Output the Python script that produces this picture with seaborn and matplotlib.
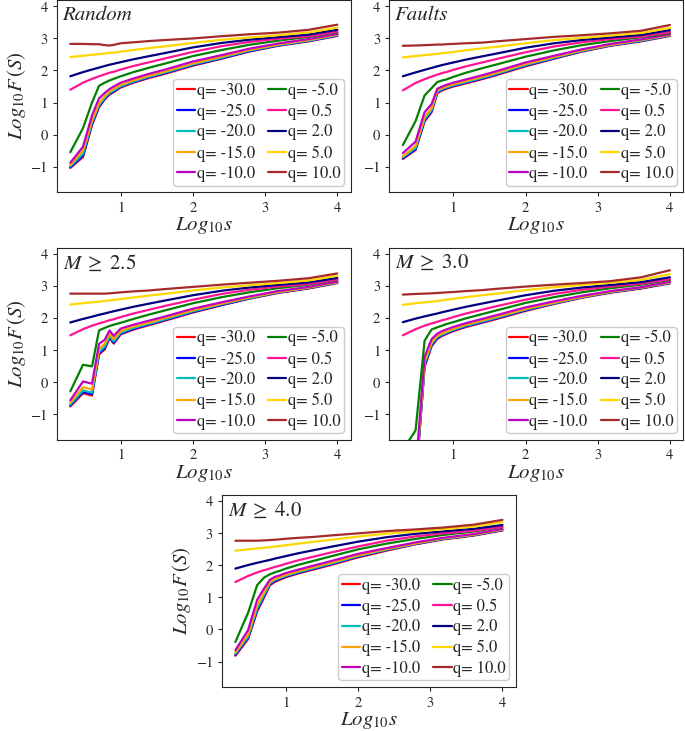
import numpy as np
import pandas as pd
import matplotlib
matplotlib.use('Agg')
import matplotlib.pyplot as plt
import seaborn as sns

# scales s (x axis is log10 s)
scales = [2, 3, 4, 5, 6, 7, 8, 10, 15, 25, 40, 100, 250, 600, 1500, 4000, 10000]

q_values = [-30.0, -25.0, -20.0, -15.0, -10.0, -5.0, 0.5, 2.0, 5.0, 10.0]
q_colors = ['red', 'blue', 'c', 'orange', 'm', 'green', 'deeppink', 'navy', 'gold', 'brown']

panel_titles = ['Random', 'Faults', r'$M\;\geq\;2.5$', r'$M\;\geq\;3.0$', r'$M\;\geq\;4.0$']

# log10 F(s), one row per q (same order as q_values)
random_curves = [
    [-1.04, -0.70, 0.30, 0.85, 1.10, 1.25, 1.33, 1.47, 1.62, 1.77, 1.89, 2.15, 2.37, 2.59, 2.77, 2.91, 3.08],
    [-1.02, -0.66, 0.33, 0.88, 1.12, 1.27, 1.35, 1.49, 1.64, 1.79, 1.91, 2.17, 2.38, 2.60, 2.78, 2.92, 3.09],
    [-0.99, -0.60, 0.38, 0.92, 1.15, 1.30, 1.38, 1.51, 1.66, 1.81, 1.93, 2.19, 2.40, 2.62, 2.79, 2.93, 3.10],
    [-0.95, -0.50, 0.45, 0.98, 1.20, 1.34, 1.42, 1.55, 1.69, 1.84, 1.96, 2.22, 2.43, 2.64, 2.81, 2.95, 3.12],
    [-0.88, -0.38, 0.60, 1.13, 1.30, 1.42, 1.50, 1.62, 1.75, 1.90, 2.02, 2.28, 2.48, 2.68, 2.84, 2.98, 3.14],
    [-0.55, 0.20, 1.00, 1.52, 1.62, 1.69, 1.74, 1.82, 1.95, 2.09, 2.21, 2.45, 2.64, 2.80, 2.93, 3.05, 3.19],
    [1.40, 1.62, 1.74, 1.82, 1.88, 1.93, 1.96, 2.03, 2.14, 2.26, 2.37, 2.58, 2.76, 2.89, 2.99, 3.07, 3.21],
    [1.82, 1.95, 2.03, 2.09, 2.14, 2.18, 2.21, 2.26, 2.35, 2.45, 2.54, 2.72, 2.86, 2.96, 3.04, 3.12, 3.27],
    [2.42, 2.46, 2.49, 2.51, 2.53, 2.55, 2.56, 2.59, 2.64, 2.70, 2.75, 2.86, 2.96, 3.03, 3.10, 3.19, 3.34],
    [2.83, 2.83, 2.82, 2.82, 2.79, 2.78, 2.80, 2.85, 2.88, 2.92, 2.95, 3.00, 3.07, 3.13, 3.18, 3.27, 3.43],
]

faults_curves = [
    [-0.76, -0.48, 0.41, 0.70, 1.29, 1.38, 1.43, 1.50, 1.60, 1.73, 1.86, 2.13, 2.37, 2.59, 2.77, 2.91, 3.08],
    [-0.74, -0.46, 0.44, 0.73, 1.31, 1.40, 1.45, 1.52, 1.62, 1.75, 1.88, 2.15, 2.38, 2.60, 2.78, 2.92, 3.09],
    [-0.71, -0.42, 0.48, 0.77, 1.34, 1.42, 1.47, 1.54, 1.64, 1.77, 1.90, 2.17, 2.40, 2.61, 2.79, 2.93, 3.10],
    [-0.68, -0.35, 0.55, 0.82, 1.38, 1.45, 1.50, 1.57, 1.67, 1.80, 1.93, 2.20, 2.42, 2.63, 2.80, 2.95, 3.11],
    [-0.58, -0.22, 0.70, 0.95, 1.43, 1.50, 1.55, 1.62, 1.72, 1.85, 1.98, 2.25, 2.46, 2.66, 2.83, 2.97, 3.13],
    [-0.33, 0.42, 1.22, 1.45, 1.64, 1.69, 1.72, 1.80, 1.93, 2.07, 2.19, 2.43, 2.63, 2.79, 2.92, 3.04, 3.17],
    [1.38, 1.61, 1.73, 1.81, 1.87, 1.92, 1.95, 2.02, 2.13, 2.25, 2.36, 2.57, 2.75, 2.88, 2.98, 3.06, 3.20],
    [1.82, 1.94, 2.02, 2.08, 2.13, 2.17, 2.20, 2.25, 2.34, 2.44, 2.53, 2.71, 2.85, 2.95, 3.03, 3.11, 3.26],
    [2.41, 2.45, 2.48, 2.50, 2.52, 2.54, 2.55, 2.58, 2.63, 2.69, 2.74, 2.85, 2.95, 3.02, 3.09, 3.17, 3.33],
    [2.77, 2.78, 2.79, 2.80, 2.81, 2.81, 2.82, 2.83, 2.85, 2.87, 2.91, 2.98, 3.05, 3.10, 3.16, 3.24, 3.42],
]

m25_curves = [
    [-0.75, -0.34, -0.41, 0.87, 1.03, 1.39, 1.21, 1.50, 1.65, 1.79, 1.92, 2.18, 2.41, 2.61, 2.79, 2.93, 3.10],
    [-0.72, -0.30, -0.37, 0.90, 1.07, 1.42, 1.24, 1.52, 1.67, 1.81, 1.94, 2.20, 2.42, 2.62, 2.80, 2.94, 3.11],
    [-0.69, -0.25, -0.32, 0.95, 1.12, 1.45, 1.28, 1.55, 1.70, 1.83, 1.96, 2.22, 2.44, 2.63, 2.81, 2.95, 3.12],
    [-0.64, -0.15, -0.22, 1.05, 1.20, 1.52, 1.35, 1.60, 1.74, 1.87, 2.00, 2.25, 2.46, 2.65, 2.82, 2.96, 3.13],
    [-0.56, 0.03, -0.04, 1.20, 1.33, 1.62, 1.45, 1.68, 1.80, 1.93, 2.05, 2.30, 2.50, 2.68, 2.85, 2.98, 3.15],
    [-0.28, 0.55, 0.50, 1.62, 1.70, 1.76, 1.80, 1.86, 1.98, 2.12, 2.24, 2.47, 2.66, 2.81, 2.94, 3.05, 3.20],
    [1.47, 1.66, 1.77, 1.84, 1.89, 1.94, 1.97, 2.04, 2.15, 2.27, 2.38, 2.58, 2.76, 2.89, 2.99, 3.07, 3.21],
    [1.87, 1.98, 2.05, 2.11, 2.15, 2.19, 2.22, 2.27, 2.36, 2.46, 2.55, 2.72, 2.86, 2.96, 3.04, 3.12, 3.26],
    [2.43, 2.47, 2.50, 2.52, 2.54, 2.56, 2.57, 2.60, 2.65, 2.71, 2.76, 2.87, 2.96, 3.03, 3.10, 3.18, 3.33],
    [2.77, 2.77, 2.77, 2.77, 2.77, 2.78, 2.79, 2.81, 2.84, 2.87, 2.91, 2.98, 3.05, 3.11, 3.17, 3.25, 3.40],
]

m30_curves = [
    [-4.50, -3.20, 0.48, 1.13, 1.36, 1.45, 1.51, 1.60, 1.73, 1.86, 1.98, 2.23, 2.45, 2.64, 2.80, 2.93, 3.09],
    [-4.40, -3.15, 0.52, 1.16, 1.38, 1.47, 1.53, 1.62, 1.75, 1.88, 2.00, 2.25, 2.46, 2.65, 2.81, 2.94, 3.10],
    [-4.30, -3.10, 0.58, 1.20, 1.41, 1.49, 1.55, 1.64, 1.77, 1.90, 2.02, 2.27, 2.47, 2.66, 2.82, 2.95, 3.11],
    [-4.20, -3.00, 0.65, 1.25, 1.45, 1.53, 1.58, 1.67, 1.80, 1.93, 2.05, 2.29, 2.49, 2.67, 2.83, 2.96, 3.12],
    [-4.00, -2.80, 0.80, 1.35, 1.52, 1.60, 1.65, 1.73, 1.85, 1.98, 2.10, 2.34, 2.53, 2.70, 2.85, 2.97, 3.14],
    [-2.10, -1.50, 1.30, 1.65, 1.72, 1.77, 1.82, 1.88, 2.00, 2.13, 2.25, 2.48, 2.66, 2.81, 2.94, 3.05, 3.20],
    [1.47, 1.66, 1.77, 1.84, 1.89, 1.94, 1.97, 2.04, 2.15, 2.27, 2.38, 2.58, 2.76, 2.89, 2.99, 3.08, 3.22],
    [1.88, 1.99, 2.06, 2.11, 2.15, 2.19, 2.22, 2.27, 2.36, 2.46, 2.55, 2.72, 2.86, 2.96, 3.04, 3.13, 3.28],
    [2.42, 2.47, 2.50, 2.52, 2.54, 2.56, 2.58, 2.61, 2.66, 2.72, 2.77, 2.88, 2.97, 3.04, 3.11, 3.20, 3.38],
    [2.74, 2.76, 2.77, 2.78, 2.79, 2.80, 2.81, 2.82, 2.85, 2.88, 2.92, 2.99, 3.05, 3.10, 3.16, 3.28, 3.50],
]

m40_curves = [
    [-0.82, -0.30, 0.56, 1.00, 1.38, 1.48, 1.54, 1.63, 1.75, 1.88, 2.00, 2.25, 2.46, 2.65, 2.81, 2.93, 3.09],
    [-0.79, -0.26, 0.60, 1.04, 1.41, 1.51, 1.56, 1.65, 1.77, 1.90, 2.02, 2.27, 2.48, 2.66, 2.82, 2.94, 3.10],
    [-0.76, -0.22, 0.65, 1.08, 1.44, 1.54, 1.59, 1.67, 1.79, 1.92, 2.04, 2.29, 2.49, 2.67, 2.83, 2.95, 3.11],
    [-0.72, -0.15, 0.75, 1.15, 1.48, 1.57, 1.62, 1.70, 1.82, 1.95, 2.07, 2.31, 2.51, 2.68, 2.84, 2.96, 3.12],
    [-0.65, -0.02, 0.92, 1.28, 1.55, 1.64, 1.68, 1.76, 1.87, 2.00, 2.12, 2.36, 2.54, 2.71, 2.86, 2.98, 3.14],
    [-0.39, 0.52, 1.38, 1.62, 1.72, 1.78, 1.82, 1.90, 2.02, 2.15, 2.27, 2.50, 2.68, 2.82, 2.95, 3.06, 3.20],
    [1.48, 1.67, 1.78, 1.85, 1.90, 1.95, 1.98, 2.05, 2.16, 2.28, 2.39, 2.59, 2.77, 2.90, 3.00, 3.08, 3.21],
    [1.90, 2.01, 2.08, 2.13, 2.17, 2.21, 2.24, 2.29, 2.38, 2.48, 2.57, 2.74, 2.88, 2.98, 3.06, 3.14, 3.26],
    [2.46, 2.50, 2.53, 2.55, 2.57, 2.59, 2.60, 2.63, 2.68, 2.74, 2.79, 2.90, 2.99, 3.06, 3.13, 3.21, 3.35],
    [2.77, 2.77, 2.77, 2.78, 2.79, 2.80, 2.81, 2.83, 2.86, 2.89, 2.93, 3.00, 3.07, 3.12, 3.18, 3.27, 3.42],
]

sns.set_style('ticks')
plt.rcParams['font.family'] = ['STIXGeneral', 'DejaVu Serif']
plt.rcParams['mathtext.fontset'] = 'stix'

fig = plt.figure(figsize=(6.85, 7.31), dpi=100)

# axes boxes in figure fractions
rects = [
    [0.083, 0.737, 0.429, 0.263],
    [0.5685, 0.737, 0.429, 0.263],
    [0.083, 0.398, 0.429, 0.263],
    [0.5685, 0.398, 0.429, 0.263],
    [0.324, 0.060, 0.429, 0.263],
]
all_curves = [random_curves, faults_curves, m25_curves, m30_curves, m40_curves]
x = np.log10(scales)

for i, (rect, curves, title) in enumerate(zip(rects, all_curves, panel_titles)):
    ax = fig.add_axes(rect)
    for q, c, ys in zip(q_values, q_colors, curves):
        sns.lineplot(x=x, y=ys, color=c, label=f'q= {q}', ax=ax, linewidth=1.6)
    ax.set_xlim(0.115, 4.185)
    ax.set_ylim(-1.8, 4.2)
    ax.set_xticks([1, 2, 3, 4])
    ax.set_yticks([-1, 0, 1, 2, 3, 4])
    ax.tick_params(labelsize=10.5, length=3)
    ax.set_xlabel(r'$Log_{10}s$', fontsize=15, labelpad=0.5)
    if i in (0, 2, 4):
        ax.set_ylabel(r'$Log_{10}F\,(S)$', fontsize=15, labelpad=2)
    if i < 2:
        ax.text(0.02, 0.97, title, transform=ax.transAxes, fontsize=15,
                style='italic', va='top', ha='left')
    else:
        ax.text(0.02, 0.97, title, transform=ax.transAxes, fontsize=15,
                va='top', ha='left')
    ax.legend(loc='lower right', ncol=2, fontsize=12, handlelength=1.1,
              handletextpad=0.1, labelspacing=0.28, columnspacing=0.8,
              borderpad=0.2, borderaxespad=0.4, framealpha=1.0)

plt.savefig('out.png', dpi=100)
